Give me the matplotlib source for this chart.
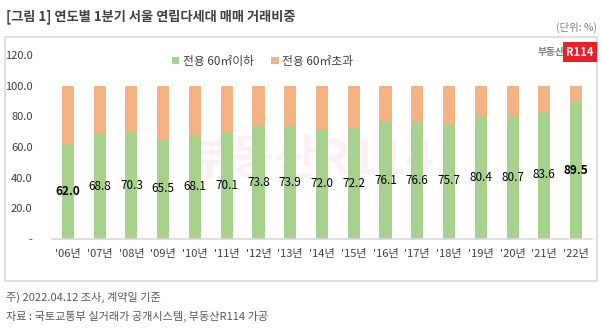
import matplotlib
matplotlib.use("Agg")
import matplotlib.pyplot as plt
from matplotlib.patches import Rectangle

plt.rcParams['font.family'] = ['Noto Sans CJK KR', 'DejaVu Sans']

years = ["'06년", "'07년", "'08년", "'09년", "'10년", "'11년", "'12년", "'13년", "'14년",
         "'15년", "'16년", "'17년", "'18년", "'19년", "'20년", "'21년", "'22년"]
small_share = [62.0, 68.8, 70.3, 65.5, 68.1, 70.1, 73.8, 73.9, 72.0,
               72.2, 76.1, 76.6, 75.7, 80.4, 80.7, 83.6, 89.5]
large_share = [round(100 - v, 1) for v in small_share]
bold_labels = {"'06년", "'22년"}
y_ticks = [0, 20, 40, 60, 80, 100, 120]
y_tick_labels = ["-", "20.0", "40.0", "60.0", "80.0", "100.0", "120.0"]

GREEN = "#A9D18E"
ORANGE = "#F4B183"
TEXT = "#404040"

W, H = 602, 334
fig = plt.figure(figsize=(W / 100, H / 100), dpi=100)

# outer panel frame
fig.patches.append(Rectangle((5 / W, 1 - 281 / H), 592 / W, 244 / H,
                             transform=fig.transFigure, facecolor="white",
                             edgecolor="#D9D9D9", linewidth=1.2, zorder=-5))

# faint watermark behind the bars
fig.text(0.515, 0.52, "부동산R114", fontsize=34, fontweight="bold", color="#F7D9DC",
         alpha=0.35, ha="center", va="center", zorder=-1)

ax = fig.add_axes([52 / W, 1 - 239 / H, 540 / W, 184 / H])
ax.set_facecolor("none")
x = range(len(years))
ax.bar(x, small_share, width=0.38, color=GREEN, label="전용 60㎡이하", zorder=2)
ax.bar(x, large_share, width=0.38, bottom=small_share, color=ORANGE,
       label="전용 60㎡초과", zorder=2)

for i, (yr, v) in enumerate(zip(years, small_share)):
    ax.text(i, v / 2, f"{v:.1f}", ha="center", va="center", fontsize=8.5,
            color="black", fontweight="bold" if yr in bold_labels else "normal",
            zorder=3)

ax.set_xlim(-0.5, len(years) - 0.5)
ax.set_ylim(0, 120)
ax.set_yticks(y_ticks)
ax.set_yticklabels(y_tick_labels)
ax.set_xticks(list(x))
ax.set_xticklabels(years)
ax.tick_params(axis="both", length=0, labelsize=8, colors=TEXT)
ax.tick_params(axis="y", pad=14)
ax.tick_params(axis="x", pad=7)
for side in ["top", "right", "left"]:
    ax.spines[side].set_visible(False)
ax.spines["bottom"].set_color("#D9D9D9")
ax.spines["bottom"].set_linewidth(1.2)

ax.legend(loc="upper center", bbox_to_anchor=(0.39, 1.06), ncol=2, frameon=False,
          fontsize=8.5, handlelength=0.6, handleheight=0.6, handletextpad=0.3,
          columnspacing=1.5, labelcolor=TEXT)

# logo
fig.text(565 / W, 1 - 52 / H, "부동산", fontsize=7, color="#7F7F7F",
         fontweight="bold", ha="right", va="center")
fig.text(580 / W, 1 - 52 / H, "R114", fontsize=8, color="white", fontweight="bold",
         ha="center", va="center",
         bbox=dict(boxstyle="square,pad=0.3", facecolor="#E8202A", edgecolor="none"))

fig.text(6 / W, 1 - 17 / H, "[그림 1] 연도별 1분기 서울 연립다세대 매매 거래비중",
         fontsize=9.5, fontweight="bold", color="#404040", ha="left", va="center")
fig.text(597 / W, 1 - 27 / H, "(단위: %)", fontsize=7.5, color="#808080",
         ha="right", va="center")
fig.text(6 / W, 1 - 297 / H, "주) 2022.04.12 조사, 계약일 기준",
         fontsize=8, color="#595959", ha="left", va="center")
fig.text(6 / W, 1 - 316 / H, "자료 : 국토교통부 실거래가 공개시스템, 부동산R114 가공",
         fontsize=8, color="#595959", ha="left", va="center")

fig.savefig("out.png", dpi=100, facecolor="white")
